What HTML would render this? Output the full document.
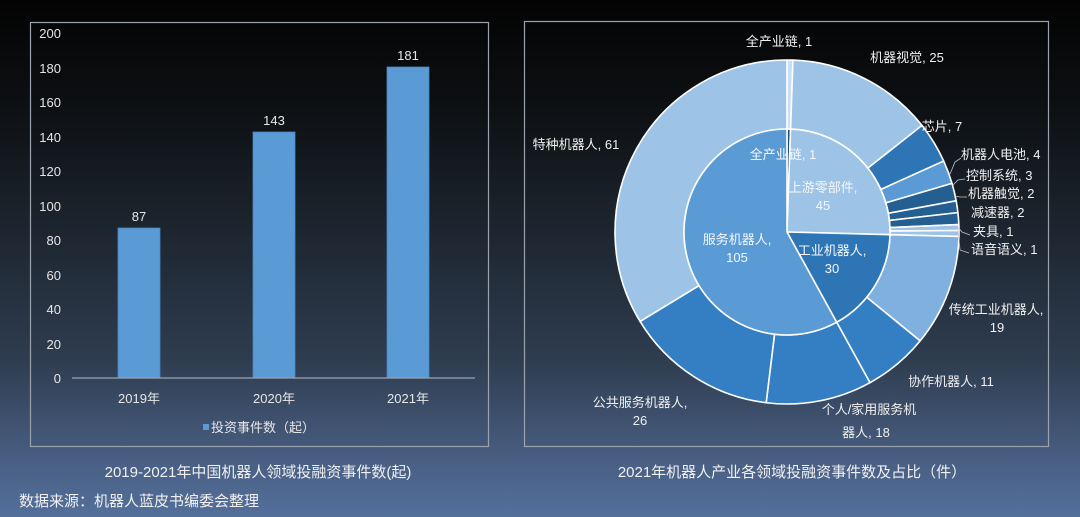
<!DOCTYPE html>
<html><head><meta charset="utf-8"><style>
html,body{margin:0;padding:0}
body{width:1080px;height:517px;overflow:hidden;background:linear-gradient(180deg,#030303 0%,#0e1114 22%,#1d2630 45%,#2f3d50 70%,#4a6085 90%,#53709b 100%);font-family:"Liberation Sans","Noto Sans CJK SC",sans-serif}
svg{position:absolute;left:0;top:0}
</style></head><body>
<svg width="1080" height="517" viewBox="0 0 1080 517" font-family="Liberation Sans, Noto Sans CJK SC, sans-serif">
<rect x="30.5" y="22.5" width="458" height="424" fill="none" stroke="#9aa3ad" stroke-width="1.2"/>
<rect x="524.5" y="21.5" width="524" height="425" fill="none" stroke="#9aa3ad" stroke-width="1.2"/>
<g fill="#e6e6e6" font-size="13" text-anchor="end">
<text x="61" y="38">200</text><text x="61" y="73">180</text><text x="61" y="107">160</text>
<text x="61" y="142">140</text><text x="61" y="176">120</text><text x="61" y="211">100</text>
<text x="61" y="245">80</text><text x="61" y="280">60</text><text x="61" y="314">40</text>
<text x="61" y="349">20</text><text x="61" y="383">0</text>
</g>
<g fill="#5b9bd5" stroke="#4a86c0" stroke-width="0.8">
<rect x="118" y="228" width="42" height="150"/>
<rect x="253" y="132" width="42" height="246"/>
<rect x="387" y="67" width="42" height="311"/>
</g>
<line x1="72" y1="378" x2="475" y2="378" stroke="#9aa3ad" stroke-width="1.2"/>
<g fill="#e6e6e6" font-size="13" text-anchor="middle">
<text x="139" y="221">87</text><text x="274" y="125">143</text><text x="408" y="60">181</text>
<text x="139" y="403">2019年</text><text x="274" y="403">2020年</text><text x="408" y="403">2021年</text>
</g>
<rect x="203" y="424" width="6" height="6" fill="#5b9bd5"/>
<text x="211" y="432" fill="#e6e6e6" font-size="13">投资事件数（起）</text>
<text x="258" y="477" fill="#f0f0f0" font-size="15" text-anchor="middle">2019-2021年中国机器人领域投融资事件数(起)</text>
<text x="792" y="477" fill="#f0f0f0" font-size="15" text-anchor="middle">2021年机器人产业各领域投融资事件数及占比（件）</text>
<text x="19" y="506" fill="#f0f0f0" font-size="15">数据来源：机器人蓝皮书编委会整理</text>
<g id="pie"></g>
<g fill="none" stroke="#bfc6cf" stroke-width="0.8">
<polyline points="950,174 955,162 961,158"/>
<polyline points="953,185 958,180 965,179"/>
<polyline points="955,196 960,197 967,197"/>
<polyline points="957,226 962,232 970,235"/>
<polyline points="958,229 960,250 969,253"/>
</g>
<g fill="#f0f0f0" font-size="13">
<text x="779" y="46" text-anchor="middle">全产业链, 1</text>
<text x="907" y="62" text-anchor="middle">机器视觉, 25</text>
<text x="942" y="131" text-anchor="middle">芯片, 7</text>
<text x="961" y="159">机器人电池, 4</text>
<text x="966" y="180">控制系统, 3</text>
<text x="968" y="198">机器触觉, 2</text>
<text x="971" y="217">减速器, 2</text>
<text x="973" y="236">夹具, 1</text>
<text x="971" y="254">语音语义, 1</text>
<text x="996" y="314" text-anchor="middle">传统工业机器人,</text>
<text x="997" y="332" text-anchor="middle">19</text>
<text x="951" y="386" text-anchor="middle">协作机器人, 11</text>
<text x="869" y="414" text-anchor="middle">个人/家用服务机</text>
<text x="866" y="437" text-anchor="middle">器人, 18</text>
<text x="640" y="407" text-anchor="middle">公共服务机器人,</text>
<text x="640" y="425" text-anchor="middle">26</text>
<text x="576" y="149" text-anchor="middle">特种机器人, 61</text>
</g>
<g fill="#f4f7fb" font-size="13" text-anchor="middle">
<text x="783" y="159">全产业链, 1</text>
<text x="823" y="192">上游零部件,</text><text x="823" y="210">45</text>
<text x="737" y="244">服务机器人,</text><text x="737" y="262">105</text>
<text x="832" y="255">工业机器人,</text><text x="832" y="273">30</text>
</g>
</svg>
<script>
(function(){
var cx=787,cy=232,R=172,r=103,ns="http://www.w3.org/2000/svg",g=document.getElementById('pie');
function pt(rad,a){a=a/181*2*Math.PI;return [cx+rad*Math.sin(a),cy-rad*Math.cos(a)];}
function seg(r0,r1,a0,a1,col){
 var p1=pt(r1,a0),p2=pt(r1,a1),p3=pt(r0,a1),p4=pt(r0,a0),lg=(a1-a0)>90.5?1:0,d;
 if(r0>0)d="M"+p1+" A"+r1+","+r1+" 0 "+lg+" 1 "+p2+" L"+p3+" A"+r0+","+r0+" 0 "+lg+" 0 "+p4+"Z";
 else d="M"+cx+","+cy+" L"+p1+" A"+r1+","+r1+" 0 "+lg+" 1 "+p2+"Z";
 var e=document.createElementNS(ns,'path');e.setAttribute('d',d);e.setAttribute('fill',col);
 e.setAttribute('stroke','#ffffff');e.setAttribute('stroke-width','1.6');e.setAttribute('stroke-linejoin','round');g.appendChild(e);}
var outer=[[1,'#c9def2'],[25,'#9dc3e6'],[7,'#2e75b6'],[4,'#5b9bd5'],[3,'#255e91'],[2,'#255e91'],[2,'#255e91'],[1,'#9dc3e6'],[1,'#9dc3e6'],[19,'#7fb0df'],[11,'#347fc4'],[18,'#347fc4'],[26,'#347fc4'],[61,'#9dc3e6']];
var a=0;outer.forEach(function(s){seg(r,R,a,a+s[0],s[1]);a+=s[0];});
var inner=[[1,'#1f4e79'],[45,'#9dc3e6'],[30,'#2e75b6'],[105,'#5b9bd5']];
a=0;inner.forEach(function(s){seg(0,r,a,a+s[0],s[1]);a+=s[0];});
})();
</script>
</body></html>
